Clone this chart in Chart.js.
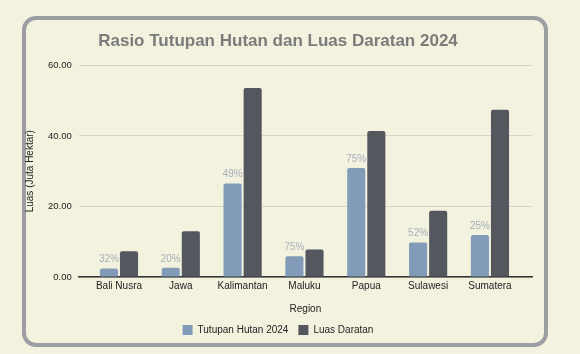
<!DOCTYPE html>
<html>
<head>
<meta charset="utf-8">
<script src="https://cdn.jsdelivr.net/npm/chart.js@4"></script>
<style>
  html, body { margin:0; padding:0; background:#f3f2df; width:580px; height:354px; overflow:hidden; }
  #card { position:absolute; left:22px; top:16px; width:526px; height:331px; box-sizing:border-box;
          border:4px solid #9c9ea3; border-radius:14px; background:#f3f2df; }
  #wrap { position:absolute; left:0; top:0; width:558px; height:354px; }
</style>
</head>
<body>
<div id="card"></div>
<div id="wrap"><canvas id="c"></canvas></div>
<script>
const categories = ['Bali Nusra', 'Jawa', 'Kalimantan', 'Maluku', 'Papua', 'Sulawesi', 'Sumatera'];
const tutupanHutan = [2.4, 2.6, 26.5, 5.9, 30.9, 9.8, 11.9];
const luasDaratan = [7.3, 13.0, 53.6, 7.8, 41.4, 18.8, 47.4];
const rasioLabels = ['32%', '20%', '49%', '75%', '75%', '52%', '25%'];
const yTicks = [0, 20, 40, 60];

const FONT = "'Liberation Sans', Arial, sans-serif";

const pctPlugin = {
  id: 'pct',
  afterDatasetsDraw(chart) {
    const meta = chart.getDatasetMeta(0);
    const ctx = chart.ctx;
    ctx.save();
    ctx.font = '10px ' + FONT;
    ctx.fillStyle = '#a6aeba';
    ctx.textAlign = 'center';
    ctx.textBaseline = 'bottom';
    meta.data.forEach((bar, i) => {
      ctx.fillText(rasioLabels[i], bar.x, bar.y - 4);
    });
    ctx.restore();
  }
};

new Chart(document.getElementById('c'), {
  type: 'bar',
  data: {
    datasets: [
      { label: 'Tutupan Hutan 2024', data: tutupanHutan.map((v, i) => ({ x: i, y: v })),
        backgroundColor: '#829bb8', borderRadius: 2, borderSkipped: 'bottom',
        barPercentage: 0.9, categoryPercentage: 0.65 },
      { label: 'Luas Daratan', data: luasDaratan.map((v, i) => ({ x: i, y: v })),
        backgroundColor: '#55575f', borderRadius: 2, borderSkipped: 'bottom',
        barPercentage: 0.9, categoryPercentage: 0.65 }
    ]
  },
  options: {
    responsive: true,
    maintainAspectRatio: false,
    animation: false,
    layout: { padding: { left: 24, right: 26, top: 0, bottom: 9 } },
    plugins: {
      title: { display: true, text: 'Rasio Tutupan Hutan dan Luas Daratan 2024',
        color: '#7b7b7b', font: { family: FONT, size: 17, weight: 'bold' },
        padding: { top: 31, bottom: 14 } },
      legend: { position: 'bottom',
        labels: { boxWidth: 10, boxHeight: 10, color: '#222', padding: 10,
          font: { family: FONT, size: 10 } } },
      tooltip: { enabled: false }
    },
    scales: {
      x: {
        type: 'linear', min: -0.65, max: 6.68, offset: false,
        afterBuildTicks(scale) { scale.ticks = categories.map((_, i) => ({ value: i })); },
        ticks: { callback: (v) => categories[v], color: '#222', font: { family: FONT, size: 10 },
          padding: 3, autoSkip: false, maxRotation: 0 },
        grid: { display: false, drawTicks: false },
        border: { display: true, color: '#333', width: 1.5 },
        title: { display: true, text: 'Region', color: '#222', font: { family: FONT, size: 10 },
          padding: { top: 8, bottom: 0 } }
      },
      y: {
        min: 0, max: 60,
        afterBuildTicks(scale) { scale.ticks = yTicks.map(v => ({ value: v })); },
        ticks: { callback: (v) => v.toFixed(2), color: '#222', font: { family: FONT, size: 9.5 },
          padding: 7 },
        grid: { color: '#d5d3c2', drawTicks: false },
        border: { display: false },
        title: { display: true, text: 'Luas (Juta Hektar)', color: '#222',
          font: { family: FONT, size: 10 }, padding: { top: 0, bottom: 5 } }
      }
    }
  },
  plugins: [pctPlugin]
});
</script>
</body>
</html>
